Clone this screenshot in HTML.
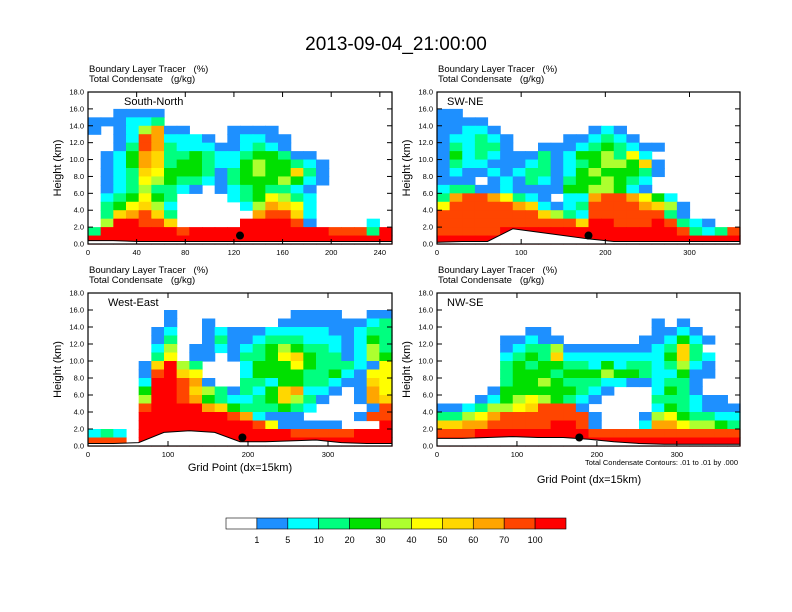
<!DOCTYPE html>
<html><head><meta charset="utf-8"><style>
body{margin:0;background:#fff;}
svg{display:block;font-family:"Liberation Sans",sans-serif;}
text{white-space:pre;}
</style></head><body>
<svg id="fig" width="792" height="612" viewBox="0 0 792 612">
<rect width="792" height="612" fill="#fff"/>
<text x="396" y="50" font-size="19" text-anchor="middle">2013-09-04_21:00:00</text>
</svg>
<script>
const levelColors=["#ffffff","#1e90ff","#00ffff","#00ff7f","#00e000","#adff2f","#ffff00","#ffd700","#ffa500","#ff4500","#ff0000"];
const levelLabels=["1","5","10","20","30","40","50","60","70","100"];
const yTicks=[0,2,4,6,8,10,12,14,16,18];
const panelNames=["South-North","SW-NE","West-East","NW-SE"];
const panelXMax=[250,360,380,379];
const panelXTicks=[[0,40,80,120,160,200,240],[0,100,200,300],[0,100,200,300],[0,100,200,300]];
const dotX=[125,180,193,178];
const terrain1=[0.4,0.4,0.3,0.3,0.3,0.3,0.3,0.3,0.3,0.3,0.3,0.3,0.3];
const terrain2=[0.2,0.3,0.3,1.8,1.4,1.0,0.6,0.3,0.3,0.3,0.3,0.3,0.3];
const terrain3=[0.3,0.3,0.4,1.6,1.8,1.6,0.5,0.5,0.6,0.7,0.4,0.3,0.3];
const terrain4=[0.9,0.9,1.0,1.1,1.0,1.0,0.8,0.5,0.3,0.2,0.2,0.2,0.2];
const terrains=[terrain1,terrain2,terrain3,terrain4];
const grid1=["000000000000000000000000","000000000000000000000000","001111000000000000000000","111223000000000000000000","101258110001111000000000","001298222101221100000000","001398322211232100000000","012487334322344311000000","012487344322454432100000","012376444313454473100000","012365433213444542100000","012353321012343321000000","023464300002346532000000","034675200000258762000000","037897300000089972000000","05AA99700000AAAA91000020","3AAAAAA9AAAAAAAAAAA9993A","AAAAAAAAAAAAAAAAAAAAAAAA"];
const grid2=["000000000000000000000000","000000000000000000000000","110000000000000000000000","111100000000000000000000","112210000000121000000000","122321000011232100000000","132331001112343211000000","142321113124453620000000","132211123123455471000000","121121233124544431000000","111012132134454320000000","233112111144554210000000","389986321022899864200000","699999872123999987510000","999999997532999999310000","999999999997AA999A932100","99999AAAAAAAAAAAAAA93239","AAAAAAAAAAAAAAAAAAAAAAAA"];
const grid3=["000000000000000000000000","000000000000000000000000","000000100000000011110011","000000100100000111111123","000001200121112222211233","000001300131123332221243","000002501121234543321253","000003601101334674331254","000017A53000244464333216","000019A76000244443342166","00002AA98100332443321176","00004AA97531324782210186","00005AA98432234753100187","00009AAAA874333432000019","0000AAAAAAA9821110000199","0000AAAAAAAAA9611111000A","2320AAAAAAAAAAAA99999AAA","9990AAAAAAAAAAAAAAAAAAAA"];
const grid4=["000000000000000000000000","000000000000000000000000","000000000000000000000000","000000000000000001010000","000000011000000001121000","000001121100000011242100","000001233511111112373000","000002343722222222473200","000003434433242332352100","000003444344454432241100","000003445433322112331000","000014444443210002431000","000124565432100003332110","112355679991000002432111","335689999999100015643322","778899999AA9100028865543","999AAAAAAAAA999999999999","AAAAAAAAAAAAAAAAAAAAAAAA"];
const grids=[grid1,grid2,grid3,grid4];
const NS="http://www.w3.org/2000/svg";
const svg=document.getElementById('fig');
function mk(tag,attrs,parent){const e=document.createElementNS(NS,tag);for(const k in attrs)e.setAttribute(k,attrs[k]);(parent||svg).appendChild(e);return e;}
const boxes=[[88,92,392,244],[437,92,740,244],[88,293,392,446],[437,293,740,446]];
boxes.forEach((b,p)=>{
  const [x0,y0,x1,y1]=b;
  const g=mk('g',{});
  
  
  const xs=v=>x0+v/panelXMax[p]*(x1-x0);
  const ys=v=>y1-v/18*(y1-y0);
  const grid=grids[p];const ncol=24;
  const cw=(x1-x0)/ncol;
  grid.forEach((row,ri)=>{
    const km=17-ri;
    for(let c=0;c<ncol;c++){
      const ch=row[c]||'0';const lv=ch==='A'?10:parseInt(ch,10);
      if(!lv)continue;
      const r=mk('rect',{x:x0+c*cw,y:ys(km+1),width:cw+0.6,height:ys(km)-ys(km+1)+0.6,fill:levelColors[lv]},g);
      
      
    }
  });
  const t=terrains[p];let pts=[];
  t.forEach((h,i)=>pts.push([xs(i/(t.length-1)*panelXMax[p]),ys(h)]));
  const poly=pts.map(q=>q.join(',')).join(' ');
  const tf=mk('polygon',{points:x0+','+y1+' '+poly+' '+x1+','+y1,fill:'#fff'},g);
  
  
  mk('polyline',{points:poly,fill:'none',stroke:'#000','stroke-width':1},g);
  const d=mk('circle',{cx:xs(dotX[p]),cy:ys(1.0),r:4,fill:'#000'},g);
  
  
  const fr=mk('rect',{x:x0,y:y0,width:x1-x0,height:y1-y0,fill:'none',stroke:'#000','stroke-width':1.2},g);
  
  
  yTicks.forEach(v=>{
    mk('line',{x1:x0,x2:x0+5,y1:ys(v),y2:ys(v),stroke:'#000'},g);
    mk('line',{x1:x1,x2:x1-5,y1:ys(v),y2:ys(v),stroke:'#000'},g);
    const tl=mk('text',{x:x0-4,y:ys(v)+2.5,'font-size':7.5,'text-anchor':'end'},g);
    tl.textContent=v.toFixed(1);
    
    
  });
  panelXTicks[p].forEach(v=>{
    mk('line',{x1:xs(v),x2:xs(v),y1:y1,y2:y1-5,stroke:'#000'},g);
    mk('line',{x1:xs(v),x2:xs(v),y1:y0,y2:y0+5,stroke:'#000'},g);
    const tl=mk('text',{x:xs(v),y:y1+11,'font-size':7.5,'text-anchor':'middle'},g);
    tl.textContent=String(v);
    
    
  });
  const yt=mk('text',{x:0,y:0,'font-size':11,'text-anchor':'middle',transform:`translate(${x0-27},${(y0+y1)/2}) rotate(-90)`},g);
  yt.textContent='Height (km)';
  
  
  const s1=mk('text',{x:x0+1,y:y0-20,'font-size':9.5},g);
  s1.textContent='Boundary Layer Tracer   (%)';
  
  
  const s2=mk('text',{x:x0+1,y:y0-10,'font-size':9.5},g);
  s2.textContent='Total Condensate   (g/kg)';
  
  
  const pl=mk('text',{x:x0+(p==0?36:p==2?20:10),y:y0+13,'font-size':11},g);
  pl.textContent=panelNames[p];
  
  
});
const xt1=mk('text',{x:240,y:471,'font-size':11,'text-anchor':'middle'});
xt1.textContent='Grid Point (dx=15km)';


const xt2=mk('text',{x:589,y:483,'font-size':11,'text-anchor':'middle'});
xt2.textContent='Grid Point (dx=15km)';


const cn=mk('text',{x:738,y:465,'font-size':7.5,'text-anchor':'end'});
cn.textContent='Total Condensate Contours: .01 to .01 by .000';


const cb=mk('g',{});


const cbx0=226,cbx1=566,cby=518,cbh=11,bw=(cbx1-cbx0)/levelColors.length;
levelColors.forEach((c,i)=>{
  const r=mk('rect',{x:cbx0+i*bw,y:cby,width:bw,height:cbh,fill:c,stroke:'#000','stroke-width':0.6},cb);
  
  
});
levelLabels.forEach((l,i)=>{
  const t=mk('text',{x:cbx0+(i+1)*bw,y:cby+cbh+14,'font-size':9,'text-anchor':'middle'},cb);
  t.textContent=l;
  
  
});
</script>
</body></html>
